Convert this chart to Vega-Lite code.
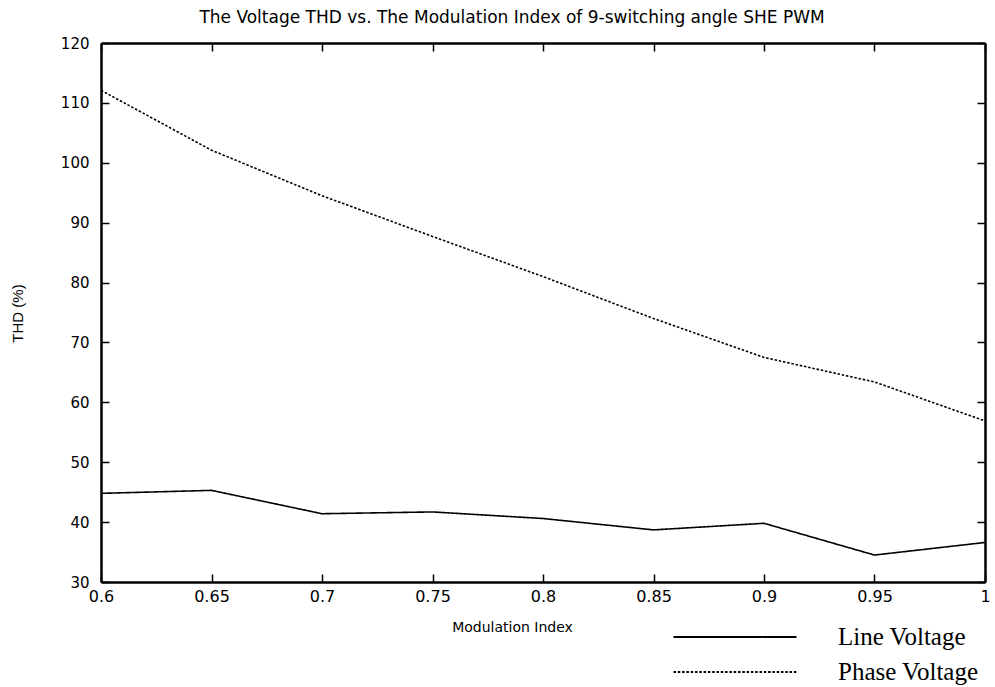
{
  "$schema": "https://vega.github.io/schema/vega-lite/v6.json",
  "autosize": {"type": "none"},
  "padding": {"left": 101, "top": 43, "right": 10, "bottom": 105},
  "width": 884,
  "height": 539,
  "background": "white",
  "view": {"stroke": null},
  "title": {
    "text": "The Voltage THD vs. The Modulation Index of 9-switching angle SHE PWM",
    "font": "DejaVu Sans",
    "fontSize": 17,
    "fontWeight": "normal",
    "color": "black",
    "offset": 9,
    "dx": -31
  },
  "data": {
    "values": [
      {"m": 0.6, "thd": 44.8, "series": "Line Voltage"},
      {"m": 0.65, "thd": 45.3, "series": "Line Voltage"},
      {"m": 0.7, "thd": 41.4, "series": "Line Voltage"},
      {"m": 0.75, "thd": 41.7, "series": "Line Voltage"},
      {"m": 0.8, "thd": 40.6, "series": "Line Voltage"},
      {"m": 0.85, "thd": 38.7, "series": "Line Voltage"},
      {"m": 0.9, "thd": 39.8, "series": "Line Voltage"},
      {"m": 0.95, "thd": 34.5, "series": "Line Voltage"},
      {"m": 1.0, "thd": 36.6, "series": "Line Voltage"},
      {"m": 0.6, "thd": 112.1, "series": "Phase Voltage"},
      {"m": 0.65, "thd": 102.1, "series": "Phase Voltage"},
      {"m": 0.7, "thd": 94.5, "series": "Phase Voltage"},
      {"m": 0.75, "thd": 87.7, "series": "Phase Voltage"},
      {"m": 0.8, "thd": 81.0, "series": "Phase Voltage"},
      {"m": 0.85, "thd": 74.0, "series": "Phase Voltage"},
      {"m": 0.9, "thd": 67.5, "series": "Phase Voltage"},
      {"m": 0.95, "thd": 63.4, "series": "Phase Voltage"},
      {"m": 1.0, "thd": 56.9, "series": "Phase Voltage"}
    ]
  },
  "layer": [
    {
      "mark": {"type": "line", "color": "black", "strokeWidth": 1.6},
      "encoding": {
        "x": {
          "field": "m", "type": "quantitative",
          "scale": {"domain": [0.6, 1.0], "nice": false, "zero": false},
          "axis": {
            "orient": "bottom",
            "values": [0.6, 0.65, 0.7, 0.75, 0.8, 0.85, 0.9, 0.95, 1.0],
            "format": ".2~f",
            "grid": false,
            "domainColor": "black", "domainWidth": 2.5,
            "tickColor": "black", "tickWidth": 1.5, "tickSize": -8,
            "labelFont": "DejaVu Sans", "labelFontSize": 16, "labelColor": "black",
            "labelPadding": 14, "labelFlush": false,
            "title": "Modulation Index",
            "titleFont": "DejaVu Sans", "titleFontSize": 14, "titleFontWeight": "normal", "titleColor": "black",
            "titleX": 411, "titleY": 49, "titleBaseline": "alphabetic", "titleAnchor": "middle"
          }
        },
        "y": {
          "field": "thd", "type": "quantitative",
          "scale": {"domain": [30, 120], "nice": false, "zero": false},
          "axis": {
            "orient": "left",
            "values": [30, 40, 50, 60, 70, 80, 90, 100, 110, 120],
            "grid": false,
            "domainColor": "black", "domainWidth": 2.5,
            "tickColor": "black", "tickWidth": 1.5, "tickSize": -8,
            "labelFont": "DejaVu Sans", "labelFontSize": 15, "labelColor": "black",
            "labelPadding": 20,
            "title": "THD (%)",
            "titleFont": "Liberation Sans", "titleFontSize": 15, "titleFontWeight": "normal", "titleColor": "black",
            "titleX": -84, "titleY": 270, "titleAngle": -90, "titleAlign": "center", "titleBaseline": "middle"
          }
        },
        "strokeDash": {
          "field": "series", "type": "nominal",
          "scale": {"domain": ["Line Voltage", "Phase Voltage"], "range": [[1, 0], [2.5, 1.8]]},
          "legend": {
            "title": null,
            "orient": "none",
            "legendX": 612,
            "legendY": 572,
            "symbolType": "M-3,0H3",
            "symbolSize": 1681,
            "symbolStrokeColor": "black",
            "symbolFillColor": "transparent",
            "symbolStrokeWidth": 2.2,
            "labelFont": "Liberation Serif",
            "labelFontSize": 25,
            "labelColor": "black",
            "labelOffset": 81,
            "rowPadding": -3
          }
        }
      }
    },
    {
      "mark": {"type": "line", "opacity": 0},
      "encoding": {
        "x": {
          "field": "m", "type": "quantitative",
          "axis": {
            "orient": "top",
            "values": [0.6, 0.65, 0.7, 0.75, 0.8, 0.85, 0.9, 0.95, 1.0],
            "labels": false, "title": null, "grid": false,
            "domainColor": "black", "domainWidth": 2.5,
            "tickColor": "black", "tickWidth": 1.5, "tickSize": -8
          }
        },
        "y": {
          "field": "thd", "type": "quantitative",
          "axis": {
            "orient": "right",
            "values": [30, 40, 50, 60, 70, 80, 90, 100, 110, 120],
            "labels": false, "title": null, "grid": false,
            "domainColor": "black", "domainWidth": 2.5,
            "tickColor": "black", "tickWidth": 1.5, "tickSize": -8
          }
        },
        "detail": {"field": "series"}
      }
    }
  ],
  "resolve": {"axis": {"x": "independent", "y": "independent"}}
}
